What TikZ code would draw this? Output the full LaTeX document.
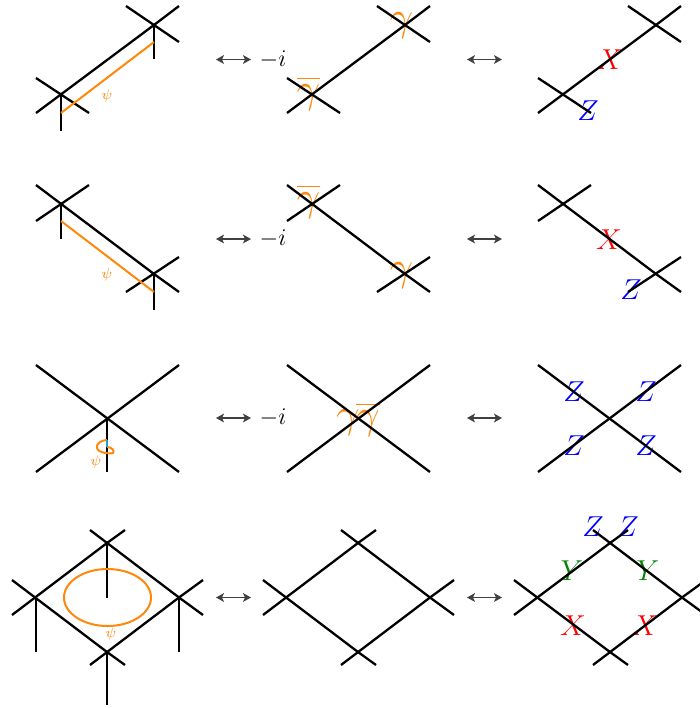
\documentclass[tikz,border=0pt]{standalone}
\usepackage{amsmath,amssymb}
\usepackage{xcolor}
\usetikzlibrary{calc,arrows.meta}
\definecolor{psiorange}{RGB}{255,135,10}
\definecolor{zblue}{RGB}{0,0,255}
\definecolor{xred}{RGB}{255,0,0}
\definecolor{ygreen}{RGB}{0,128,0}
\definecolor{segcyan}{RGB}{30,160,210}
\begin{document}
\begin{tikzpicture}[x=0.5pt, y=-0.5pt]
\tikzset{
  leg/.style={line width=1.15pt,draw=black},
  stem/.style={line width=1pt,draw=black},
  ar/.style={{Stealth[length=4pt,width=4.4pt,inset=1pt]}-{Stealth[length=4pt,width=4.4pt,inset=1pt]},line width=0.6pt,draw=black!75},
  psiline/.style={line width=1pt,draw=psiorange},
  psilab/.style={font=\scriptsize,text=psiorange,inner sep=0pt},
  gam/.style={font=\fontsize{20.7}{24}\selectfont,text=psiorange,inner sep=0pt},
  pre/.style={font=\fontsize{13}{15}\selectfont,text=black,inner sep=0pt},
  opx/.style={font=\fontsize{13.5}{16}\selectfont,text=xred,inner sep=0pt},
  opy/.style={font=\fontsize{13.5}{16}\selectfont,text=ygreen,inner sep=0pt},
  opz/.style={font=\fontsize{13.5}{16}\selectfont,text=zblue,inner sep=0pt}
}
\clip (0,0) rectangle (700,708);
% ---- vertices, row 1
\coordinate (a1) at (61,95);   \coordinate (b1) at (154,25);
\coordinate (a2) at (312,95);  \coordinate (b2) at (405,25);
\coordinate (a3) at (563,95);  \coordinate (b3) at (656,25);
% ---- vertices, row 2
\coordinate (c1) at (61,204);  \coordinate (d1) at (154,274);
\coordinate (c2) at (312,204); \coordinate (d2) at (405,274);
\coordinate (c3) at (563,204); \coordinate (d3) at (656,274);
% ---- vertices, row 3
\coordinate (e1) at (107,418); \coordinate (e2) at (358,418); \coordinate (e3) at (610,418);
% ---- vertices, row 4
\coordinate (l1) at (36,597.5);  \coordinate (t1) at (107,543); \coordinate (r1) at (179,597.5); \coordinate (u1) at (107,652);
\coordinate (l2) at (287,597.5); \coordinate (t2) at (358,543); \coordinate (r2) at (430,597.5); \coordinate (u2) at (358,652);
\coordinate (l3) at (538,597.5); \coordinate (t3) at (610,543); \coordinate (r3) at (682,597.5); \coordinate (u3) at (610,652);
\coordinate (o1) at (107.5,597.5);
% ---- arrow ends
\coordinate (p1) at (216,59.5);  \coordinate (q1) at (251,59.5);  \coordinate (v1) at (467,59.5);  \coordinate (w1) at (502,59.5);
\coordinate (p2) at (216,239);   \coordinate (q2) at (251,239);   \coordinate (v2) at (467,239);   \coordinate (w2) at (502,239);
\coordinate (p3) at (216,418);   \coordinate (q3) at (251,418);   \coordinate (v3) at (467,418);   \coordinate (w3) at (502,418);
\coordinate (p4) at (216,597.5); \coordinate (q4) at (251,597.5); \coordinate (v4) at (467,597.5); \coordinate (w4) at (502,597.5);
% ---- labels under the lines
\node[gam] (g1) at (308.5,93) {$\overline{\gamma}$};
\node[gam] (g2) at (401.5,26) {$\gamma$};
\node[gam] (g3) at (308.5,201) {$\overline{\gamma}$};
\node[gam] (g4) at (401.5,276) {$\gamma$};
\node[gam] (g5) at (348,423) {$\gamma$};
\node[gam] (g6) at (368,419) {$\overline{\gamma}$};
\node[opx] (x1) at (610,60)  {$X$};
\node[opz] (z1) at (588,111) {$Z$};
\node[opx] (x2) at (609,240) {$X$};
\node[opz] (z2) at (631,290) {$Z$};
\node[opz] (z3) at (574,392) {$Z$};
\node[opz] (z4) at (646,392) {$Z$};
\node[opz] (z5) at (574,446) {$Z$};
\node[opz] (z6) at (646,446) {$Z$};
\node[opz] (z7) at (593,527) {$Z$};
\node[opz] (z8) at (628,527) {$Z$};
\node[opy] (y1) at (572,571) {$Y$};
\node[opy] (y2) at (648,571) {$Y$};
\node[opx] (x3) at (573,626) {$X$};
\node[opx] (x4) at (645,626) {$X$};
\node[psilab] (s1) at (107,96)  {$\psi$};
\node[psilab] (s2) at (107,275) {$\psi$};
\node[psilab] (s3) at (96,462)  {$\psi$};
\node[psilab] (s4) at (111,634) {$\psi$};
\node[pre] (i1) at (273,60)  {$-i$};
\node[pre] (i2) at (273,239) {$-i$};
\node[pre] (i3) at (273,418) {$-i$};
% ---- row 1
\draw[leg] (a1) +(-25,18) -- (b1) -- +(25,-19);
\draw[leg] (a1) +(-25,-17) -- +(28,18);
\draw[leg] (b1) +(-28,-19) -- +(25,17);
\draw[stem] (a1) -- +(0,36);
\draw[stem] (b1) -- +(0,34);
\draw[psiline] ($(a1)+(0,18)$) -- ($(b1)+(0,17)$);
\draw[leg] (a2) +(-25,18) -- (b2) -- +(25,-19);
\draw[leg] (a2) +(-25,-17) -- +(28,18);
\draw[leg] (b2) +(-28,-19) -- +(25,17);
\draw[leg] (a3) +(-25,18) -- (b3) -- +(25,-19);
\draw[leg] (a3) +(-25,-17) -- +(28,18);
\draw[leg] (b3) +(-28,-19) -- +(25,17);
% ---- row 2
\draw[leg] (c1) +(-25,-19) -- (d1) -- +(25,18);
\draw[leg] (c1) +(-25,17) -- +(28,-19);
\draw[leg] (d1) +(-28,18) -- +(25,-17);
\draw[stem] (c1) -- +(0,35);
\draw[stem] (d1) -- +(0,36);
\draw[psiline] ($(c1)+(0,17)$) -- ($(d1)+(0,18)$);
\draw[leg] (c2) +(-25,-19) -- (d2) -- +(25,18);
\draw[leg] (c2) +(-25,17) -- +(28,-19);
\draw[leg] (d2) +(-28,18) -- +(25,-17);
\draw[leg] (c3) +(-25,-19) -- (d3) -- +(25,18);
\draw[leg] (c3) +(-25,17) -- +(28,-19);
\draw[leg] (d3) +(-28,18) -- +(25,-17);
% ---- row 3
\draw[leg] (e1) +(-71,-53) -- +(72,54);
\draw[leg] (e1) +(-71,54) -- +(72,-53);
\draw[stem] (e1) -- +(0,54);
\draw[psiline] ($(e1)+(0,22)$) .. controls ($(e1)+(-6,22)$) and ($(e1)+(-11,26)$) .. ($(e1)+(-10,30)$) .. controls ($(e1)+(-9,35)$) and ($(e1)+(3,36)$) .. ($(e1)+(6,35)$) .. controls ($(e1)+(8,33)$) and ($(e1)+(5,29)$) .. ($(e1)+(0,29)$);
\draw[line width=1pt,draw=segcyan] ($(e1)+(0,22)$) -- ($(e1)+(0,29)$);
\draw[leg] (e2) +(-71,-53) -- +(72,54);
\draw[leg] (e2) +(-71,54) -- +(72,-53);
\draw[leg] (e3) +(-72,-53) -- +(71,54);
\draw[leg] (e3) +(-72,54) -- +(71,-53);
% ---- row 4
\draw[leg] (l1) +(-24,-17.5) -- (u1) -- +(18,13);
\draw[leg] (t1) +(-17,-13) -- (r1) -- +(24,17.5);
\draw[leg] (l1) +(-24,17.5) -- (t1) -- +(18,-13);
\draw[leg] (u1) +(-17,13) -- (r1) -- +(24,-17.5);
\draw[stem] (l1) -- +(0,54);
\draw[stem] (r1) -- +(0,54);
\draw[stem] (t1) -- (t1|-o1);
\draw[stem] (u1) -- +(0,53);
\draw[psiline] (o1) ellipse (43.5 and 28.5);
\draw[leg] (l2) +(-24,-17.5) -- (u2) -- +(18,13);
\draw[leg] (t2) +(-17,-13) -- (r2) -- +(24,17.5);
\draw[leg] (l2) +(-24,17.5) -- (t2) -- +(18,-13);
\draw[leg] (u2) +(-17,13) -- (r2) -- +(24,-17.5);
\draw[leg] (l3) +(-24,-17.5) -- (u3) -- +(18,13);
\draw[leg] (t3) +(-17,-13) -- (r3) -- +(24,17.5);
\draw[leg] (l3) +(-24,17.5) -- (t3) -- +(18,-13);
\draw[leg] (u3) +(-17,13) -- (r3) -- +(24,-17.5);
% ---- arrows
\draw[ar] (p1)--(q1); \draw[ar] (v1)--(w1);
\draw[ar] (p2)--(q2); \draw[ar] (v2)--(w2);
\draw[ar] (p3)--(q3); \draw[ar] (v3)--(w3);
\draw[ar] (p4)--(q4); \draw[ar] (v4)--(w4);
\end{tikzpicture}
\end{document}
